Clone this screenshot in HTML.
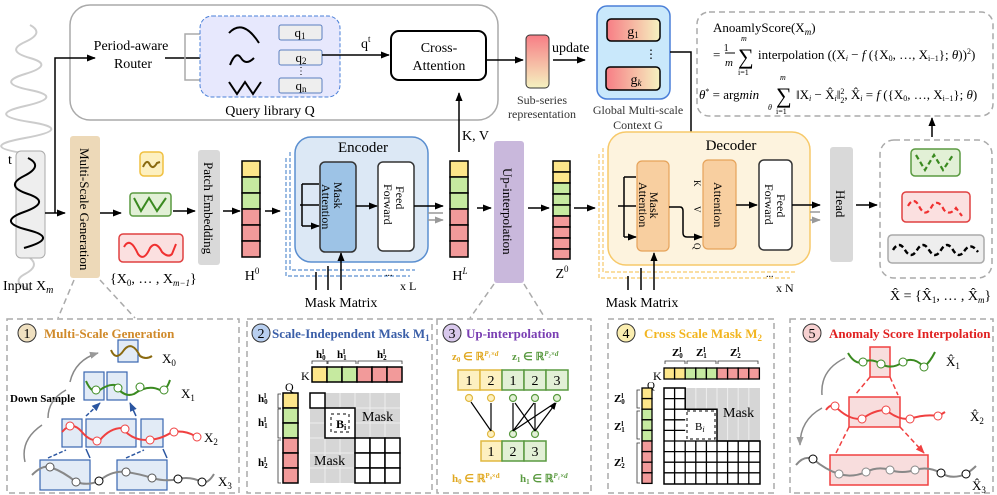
<!DOCTYPE html>
<html><head><meta charset="utf-8"><style>
html,body{margin:0;padding:0;background:#fff}
svg{display:block;font-family:"Liberation Serif",serif}
</style></head><body>
<svg width="997" height="495" viewBox="0 0 997 495" xmlns="http://www.w3.org/2000/svg">
<defs>
<marker id="a" viewBox="0 0 10 10" refX="9" refY="5" markerWidth="6" markerHeight="6" orient="auto"><path d="M0,1 L10,5 L0,9 z" fill="#000"/></marker>
<marker id="ag" viewBox="0 0 10 10" refX="9" refY="5" markerWidth="6" markerHeight="6" orient="auto"><path d="M0,1 L10,5 L0,9 z" fill="#999"/></marker>
<marker id="ab" viewBox="0 0 10 10" refX="9" refY="5" markerWidth="6" markerHeight="6" orient="auto"><path d="M0,1 L10,5 L0,9 z" fill="#2a55a0"/></marker>
<marker id="ar" viewBox="0 0 10 10" refX="9" refY="5" markerWidth="6" markerHeight="6" orient="auto"><path d="M0,1 L10,5 L0,9 z" fill="#f04040"/></marker>
<linearGradient id="gr" x1="0" y1="0" x2="1" y2="0"><stop offset="0" stop-color="#f77d85"/><stop offset="1" stop-color="#f5f2c0"/></linearGradient>
<linearGradient id="gv" x1="0" y1="0" x2="0" y2="1"><stop offset="0" stop-color="#f77d85"/><stop offset="1" stop-color="#f5f2c0"/></linearGradient>
</defs>

<!-- Input waveform -->
<path d="M30,25 Q45,33 25,42 T30,58 T25,74 T30,90 T25,106 T30,122 T25,138 T30,154" fill="none" stroke="#ccc" stroke-width="2"/>
<path d="M30,258 Q40,266 25,274 T30,290" fill="none" stroke="#ccc" stroke-width="2"/>
<rect x="16" y="151" width="29" height="107" rx="5" fill="#eee" stroke="#aaa"/>
<path d="M28,158 Q44,166 24,176 T28,194 T24,212 T28,230 T24,248" fill="none" stroke="#000" stroke-width="2"/>
<text x="8" y="164" font-size="14">t</text>
<text x="3" y="290" font-size="14">Input X<tspan font-style="italic" font-size="10" dy="3">m</tspan></text>

<!-- top box -->
<rect x="70" y="5" width="428" height="115" rx="20" fill="#fff" stroke="#aaa" stroke-width="1.5"/>
<text x="131" y="50" font-size="14" text-anchor="middle">Period-aware</text>
<text x="133" y="68" font-size="14" text-anchor="middle">Router</text>
<path d="M45,213 H65" stroke="#000" stroke-width="1.5" marker-end="url(#a)"/>
<path d="M55,213 V58 H95" fill="none" stroke="#000" stroke-width="1.5" marker-end="url(#a)"/>
<path d="M165,58 H212" stroke="#000" stroke-width="1.5" marker-end="url(#a)"/>
<path d="M210,34 H185 V80 H210" fill="none" stroke="#aaa" stroke-width="1.5"/>
<path d="M205,34 H211 M205,80 H211" stroke="#aaa" marker-end="url(#ag)"/>
<rect x="200" y="16" width="140" height="81" rx="12" fill="#e7e8fd" stroke="#4a7fd8" stroke-dasharray="4,2"/>
<path d="M229,33 Q243,18 259,43" fill="none" stroke="#000" stroke-width="2"/>
<path d="M230,65 Q236,50 241,58 T254,58" fill="none" stroke="#000" stroke-width="2"/>
<path d="M229,82 L237,94 L245,82 L253,94 L261,82" fill="none" stroke="#000" stroke-width="2"/>
<rect x="279" y="25" width="43" height="15" rx="2" fill="#eee" stroke="#5b7fc0"/>
<rect x="279" y="50" width="43" height="15" rx="2" fill="#eee" stroke="#5b7fc0"/>
<rect x="279" y="78" width="43" height="15" rx="2" fill="#eee" stroke="#5b7fc0"/>
<text x="300" y="37" font-size="13" text-anchor="middle">q<tspan font-size="9" dy="2">1</tspan></text>
<text x="301" y="62" font-size="13" text-anchor="middle">q<tspan font-size="9" dy="2">2</tspan></text>
<text x="296" y="74" font-size="10">⋮</text>
<text x="301" y="90" font-size="13" text-anchor="middle">q<tspan font-size="9" dy="2">n</tspan></text>
<text x="270" y="115" font-size="14" text-anchor="middle">Query library Q</text>
<path d="M322,55 H389" stroke="#000" stroke-width="1.5" marker-end="url(#a)"/>
<text x="361" y="48" font-size="14">q<tspan font-size="9" dy="-6">t</tspan></text>
<rect x="391" y="31" width="95" height="49" rx="8" fill="#fff" stroke="#000" stroke-width="2"/>
<text x="439" y="52" font-size="14" text-anchor="middle">Cross-</text>
<text x="439" y="70" font-size="14" text-anchor="middle">Attention</text>
<path d="M486,60 H523" stroke="#000" stroke-width="1.5" marker-end="url(#a)"/>
<path d="M459,152 V93" stroke="#000" stroke-width="1.5" marker-end="url(#a)"/>
<text x="462" y="140" font-size="14">K, V</text>

<!-- sub-series & global -->
<rect x="526" y="35" width="23" height="53" rx="4" fill="url(#gv)" stroke="#333"/>
<text x="542" y="104" font-size="12" text-anchor="middle" fill="#333">Sub-series</text>
<text x="542" y="118" font-size="12" text-anchor="middle" fill="#333">representation</text>
<text x="552" y="52" font-size="14">update</text>
<path d="M553,60 H585" stroke="#000" stroke-width="1.5" marker-end="url(#a)"/>
<rect x="597" y="6" width="73" height="93" rx="10" fill="#c9e8fb" stroke="#4a7fd8" stroke-width="1.5"/>
<rect x="607" y="19" width="53" height="22" rx="4" fill="url(#gr)" stroke="#000" stroke-width="1.5"/>
<rect x="606" y="67" width="54" height="23" rx="4" fill="url(#gr)" stroke="#000" stroke-width="1.5"/>
<text x="633" y="36" font-size="14" text-anchor="middle">g<tspan font-size="9" dy="2">1</tspan></text>
<text x="636" y="84" font-size="14" text-anchor="middle">g<tspan font-size="9" dy="2" font-style="italic">k</tspan></text>
<text x="645" y="58" font-size="12">⋮</text>
<text x="638" y="114" font-size="12" text-anchor="middle" fill="#333">Global Multi-scale</text>
<text x="638" y="129" font-size="12" text-anchor="middle" fill="#333">Context G</text>
<path d="M670,52 H691 V202" fill="none" stroke="#000" stroke-width="1.5"/>
<path d="M691,174 H702 M691,201 H702" stroke="#000" stroke-width="1.5" marker-end="url(#a)"/>

<!-- formula -->
<rect x="697" y="12" width="296" height="104" rx="12" fill="#fff" stroke="#aaa" stroke-dasharray="6,4" stroke-width="1.5"/>
<text x="713" y="32" font-size="13">AnoamlyScore(X<tspan font-style="italic" font-size="9" dy="3">m</tspan><tspan dy="-3">)</tspan></text>
<text x="713" y="59" font-size="13">= <tspan font-size="10" dy="-8">1</tspan></text>
<line x1="725" y1="53" x2="735" y2="53" stroke="#000"/>
<text x="725" y="66" font-size="11" font-style="italic">m</text>
<text x="738" y="64" font-size="22">∑</text>
<text x="741" y="41" font-size="8" font-style="italic">m</text>
<text x="738" y="75" font-size="8">i=1</text>
<text x="758" y="59" font-size="13">interpolation ((X<tspan font-size="8" dy="2" font-style="italic">i</tspan><tspan dy="-2"> − </tspan><tspan font-style="italic">f</tspan> ({X<tspan font-size="8" dy="2">0</tspan><tspan dy="-2">, …, X</tspan><tspan font-size="8" dy="2">i−1</tspan><tspan dy="-2">}; </tspan><tspan font-style="italic">θ</tspan>))<tspan font-size="8" dy="-5">2</tspan><tspan dy="5">)</tspan></text>
<text x="699" y="99" font-size="13"><tspan font-style="italic">θ</tspan><tspan font-size="8" dy="-5">*</tspan><tspan dy="5"> = arg</tspan><tspan font-style="italic">min</tspan></text>
<text x="768" y="110" font-size="8" font-style="italic">θ</text>
<text x="776" y="103" font-size="22">∑</text>
<text x="780" y="80" font-size="8" font-style="italic">m</text>
<text x="776" y="114" font-size="8">i=1</text>
<text x="796" y="99" font-size="13">‖X<tspan font-size="8" dy="2" font-style="italic">i</tspan><tspan dy="-2"> − X̂</tspan><tspan font-size="8" dy="2" font-style="italic">i</tspan><tspan dy="-2">‖</tspan><tspan font-size="8" dy="-5">2</tspan><tspan font-size="8" dx="-4" dy="9">2</tspan><tspan dy="-4">, X̂</tspan><tspan font-size="8" dy="2" font-style="italic">i</tspan><tspan dy="-2"> = </tspan><tspan font-style="italic">f</tspan> ({X<tspan font-size="8" dy="2">0</tspan><tspan dy="-2">, …, X</tspan><tspan font-size="8" dy="2">i−1</tspan><tspan dy="-2">}; </tspan><tspan font-style="italic">θ</tspan>)</text>

<!-- multi-scale gen -->
<rect x="70" y="136" width="30" height="142" rx="3" fill="#edd9b8"/>
<text transform="translate(80,148) rotate(90)" font-size="13">Multi-Scale Generation</text>
<path d="M100,213 H121" stroke="#000" stroke-width="1.5" marker-end="url(#a)"/>
<rect x="140" y="152" width="23" height="24" rx="4" fill="#fdf0c0" stroke="#f0c040" stroke-width="1.5"/>
<path d="M143,167 Q147,158 150,165 Q153,170 157,163 L160,162" fill="none" stroke="#8a6a10" stroke-width="2"/>
<rect x="130" y="193" width="41" height="23" rx="3" fill="#e2f0d6" stroke="#5a9a40" stroke-width="1.5"/>
<path d="M134,198 L141,211 L149,198 L157,211 L166,198" fill="none" stroke="#3a8a20" stroke-width="2"/>
<rect x="119" y="234" width="64" height="28" rx="4" fill="#fbe0e0" stroke="#e04040" stroke-width="1.5"/>
<path d="M124,247 Q130,236 138,254 Q144,262 150,248 Q156,240 162,252 Q168,258 172,254 L176,244" fill="none" stroke="#f03030" stroke-width="2"/>
<text x="110" y="283" font-size="14">{X<tspan font-size="9" dy="3">0</tspan><tspan dy="-3">, … , X</tspan><tspan font-size="9" dy="3" font-style="italic">m−1</tspan><tspan dy="-3">}</tspan></text>
<path d="M173,211 H195" stroke="#000" stroke-width="1.5" marker-end="url(#a)"/>
<rect x="198" y="150" width="22" height="115" rx="3" fill="#d9d9d9"/>
<text transform="translate(204,162) rotate(90)" font-size="13">Patch Embedding</text>
<path d="M223,211 H240" stroke="#000" stroke-width="1.5" marker-end="url(#a)"/>
<g stroke="#000" stroke-width="1.5">
<rect x="242" y="161" width="18" height="16" fill="#fde68a"/>
<rect x="242" y="177" width="18" height="16" fill="#c6eaa0"/>
<rect x="242" y="193" width="18" height="16" fill="#c6eaa0"/>
<rect x="242" y="209" width="18" height="16" fill="#f29a9a"/>
<rect x="242" y="225" width="18" height="16" fill="#f29a9a"/>
<rect x="242" y="241" width="18" height="16" fill="#f29a9a"/>
</g>
<text x="252" y="280" font-size="14" text-anchor="middle">H<tspan font-size="9" dy="-6">0</tspan></text>
<path d="M265,211 H280" stroke="#000" stroke-width="1.5" marker-end="url(#a)"/>

<!-- encoder -->
<path d="M290,152 V270 H415" fill="none" stroke="#5b8fd0" stroke-dasharray="4,2" stroke-width="1.2"/>
<path d="M286,158 V276 H410" fill="none" stroke="#5b8fd0" stroke-dasharray="4,2" stroke-width="1.2"/>
<rect x="295" y="137" width="133" height="125" rx="16" fill="#dce8f5" stroke="#5b8fd0" stroke-width="1.5"/>
<text x="363" y="152" font-size="15" text-anchor="middle">Encoder</text>
<rect x="320" y="162" width="36" height="90" rx="5" fill="#9dc3e6" stroke="#333" stroke-width="1.5"/>
<text transform="translate(334,182) rotate(90)" font-size="12">Mask</text>
<text transform="translate(322,184) rotate(90)" font-size="12">Attention</text>
<rect x="378" y="162" width="36" height="89" rx="5" fill="#fff" stroke="#333" stroke-width="1.5"/>
<text transform="translate(396,186) rotate(90)" font-size="12">Feed</text>
<text transform="translate(384,184) rotate(90)" font-size="12">Forward</text>
<path d="M302,205 V184 M302,205 V226" fill="none" stroke="#000" stroke-width="1.5"/>
<path d="M300,205 H319 M302,184 H319 M302,226 H319" stroke="#000" stroke-width="1.5" marker-end="url(#a)"/>
<path d="M356,206 H377" stroke="#000" stroke-width="1.5" marker-end="url(#a)"/>
<path d="M414,206 H443" stroke="#000" stroke-width="1.5" marker-end="url(#a)"/>
<path d="M428,213 H443 M428,220 H443" stroke="#999" stroke-width="1.5" marker-end="url(#ag)"/>
<path d="M316,290 V272 M328,290 V266 M341,290 V253" stroke="#000" stroke-width="1.5" marker-end="url(#a)"/>
<text x="385" y="276" font-size="10">...</text>
<text x="400" y="290" font-size="12">x L</text>
<text x="341" y="307" font-size="14" text-anchor="middle">Mask Matrix</text>

<g stroke="#000" stroke-width="1.5">
<rect x="450" y="161" width="18" height="16" fill="#fde68a"/>
<rect x="450" y="177" width="18" height="16" fill="#c6eaa0"/>
<rect x="450" y="193" width="18" height="16" fill="#c6eaa0"/>
<rect x="450" y="209" width="18" height="16" fill="#f29a9a"/>
<rect x="450" y="225" width="18" height="16" fill="#f29a9a"/>
<rect x="450" y="241" width="18" height="16" fill="#f29a9a"/>
</g>
<text x="460" y="280" font-size="14" text-anchor="middle">H<tspan font-size="9" dy="-6" font-style="italic">L</tspan></text>
<path d="M477,208 H491" stroke="#000" stroke-width="1.5" marker-end="url(#a)"/>
<rect x="494" y="141" width="30" height="142" rx="3" fill="#c9b8dc"/>
<text transform="translate(503,168) rotate(90)" font-size="13">Up-interpolation</text>
<path d="M528,208 H549" stroke="#000" stroke-width="1.5" marker-end="url(#a)"/>
<g stroke="#000" stroke-width="1.5">
<rect x="553" y="161" width="17" height="11" fill="#fde68a"/>
<rect x="553" y="172" width="17" height="11" fill="#fde68a"/>
<rect x="553" y="183" width="17" height="11" fill="#c6eaa0"/>
<rect x="553" y="194" width="17" height="11" fill="#c6eaa0"/>
<rect x="553" y="205" width="17" height="11" fill="#c6eaa0"/>
<rect x="553" y="216" width="17" height="11" fill="#f29a9a"/>
<rect x="553" y="227" width="17" height="11" fill="#f29a9a"/>
<rect x="553" y="238" width="17" height="11" fill="#f29a9a"/>
<rect x="553" y="249" width="17" height="10" fill="#f29a9a"/>
</g>
<text x="562" y="278" font-size="14" text-anchor="middle">Z<tspan font-size="9" dy="-6">0</tspan></text>
<path d="M574,208 H595" stroke="#000" stroke-width="1.5" marker-end="url(#a)"/>

<!-- decoder -->
<path d="M603,148 V272 H795" fill="none" stroke="#f7c96a" stroke-dasharray="4,2" stroke-width="1.2"/>
<path d="M599,154 V278 H790" fill="none" stroke="#f7c96a" stroke-dasharray="4,2" stroke-width="1.2"/>
<rect x="608" y="132" width="202" height="133" rx="18" fill="#fdf3de" stroke="#f7c96a" stroke-width="1.5"/>
<text x="731" y="150" font-size="15" text-anchor="middle">Decoder</text>
<rect x="637" y="161" width="32" height="90" rx="5" fill="#f8cfa0" stroke="#e6a35a" stroke-width="1.2"/>
<text transform="translate(650,192) rotate(90)" font-size="12">Mask</text>
<text transform="translate(639,182) rotate(90)" font-size="12">Attention</text>
<rect x="703" y="160" width="33" height="89" rx="5" fill="#f8cfa0" stroke="#e6a35a" stroke-width="1.2"/>
<text transform="translate(714,182) rotate(90)" font-size="12">Attention</text>
<rect x="759" y="160" width="33" height="90" rx="5" fill="#fff" stroke="#333" stroke-width="1.5"/>
<text transform="translate(777,194) rotate(90)" font-size="12">Feed</text>
<text transform="translate(765,184) rotate(90)" font-size="12">Forward</text>
<path d="M624,206 V177 M624,206 V237" fill="none" stroke="#000" stroke-width="1.5"/>
<path d="M618,206 H636 M624,177 H636 M624,237 H636" stroke="#000" stroke-width="1.5" marker-end="url(#a)"/>
<path d="M669,207 H680 Q683,207 683,211 V233 Q683,237 687,237 H702" fill="none" stroke="#000" stroke-width="1.5" marker-end="url(#a)"/>
<text transform="translate(694,180) rotate(90)" font-size="9">K</text>
<text transform="translate(694,206) rotate(90)" font-size="9">V</text>
<text transform="translate(694,243) rotate(90)" font-size="9">Q</text>
<path d="M736,205 H757" stroke="#000" stroke-width="1.5" marker-end="url(#a)"/>
<path d="M792,205 H820" stroke="#000" stroke-width="1.5" marker-end="url(#a)"/>
<path d="M810,212 H820 M810,220 H820" stroke="#999" stroke-width="1.5" marker-end="url(#ag)"/>
<path d="M628,290 V276 M641,290 V268 M654,290 V253" stroke="#000" stroke-width="1.5" marker-end="url(#a)"/>
<text x="766" y="277" font-size="10">...</text>
<text x="776" y="292" font-size="12">x N</text>
<text x="642" y="307" font-size="14" text-anchor="middle">Mask Matrix</text>
<rect x="830" y="147" width="23" height="115" rx="3" fill="#d9d9d9"/>
<text transform="translate(836,190) rotate(90)" font-size="13">Head</text>
<path d="M856,205 H877" stroke="#000" stroke-width="1.5" marker-end="url(#a)"/>
<rect x="880" y="140" width="112" height="138" rx="14" fill="#fff" stroke="#aaa" stroke-dasharray="6,4" stroke-width="1.5"/>
<rect x="911" y="149" width="49" height="27" rx="4" fill="#e2f0d6" stroke="#5a9a40" stroke-width="1.5"/>
<path d="M916,155 L925,170 L934,155 L943,170 L953,155" fill="none" stroke="#3a8a20" stroke-width="2.2" stroke-dasharray="5,3"/>
<rect x="902" y="192" width="68" height="30" rx="4" fill="#fbe0e0" stroke="#e04040" stroke-width="1.5"/>
<path d="M908,206 Q914,195 920,208 Q926,218 932,206 Q938,198 944,210 Q950,216 956,208 L962,216" fill="none" stroke="#f03030" stroke-width="2.2" stroke-dasharray="5,3"/>
<rect x="888" y="235" width="96" height="28" rx="4" fill="#eee" stroke="#aaa" stroke-width="1.5"/>
<path d="M893,250 Q899,240 905,250 Q911,260 917,250 Q923,240 929,250 Q935,260 941,250 Q947,240 953,250 Q959,260 965,250 Q971,242 978,252" fill="none" stroke="#000" stroke-width="2.4" stroke-dasharray="5,3"/>
<path d="M932,137 V118" stroke="#000" stroke-width="1.5" marker-end="url(#a)"/>
<text x="890" y="300" font-size="14">X̂ = {X̂<tspan font-size="9" dy="3">1</tspan><tspan dy="-3">, … , X̂</tspan><tspan font-size="9" dy="3" font-style="italic">m</tspan><tspan dy="-3">}</tspan></text>

<!-- zoom lines -->
<g stroke="#aaa" stroke-dasharray="6,4" stroke-width="1.5" fill="none">
<path d="M74,280 L58,318 M100,280 L135,318"/>
<path d="M494,284 L470,318 M524,284 L545,318"/>
</g>

<!-- bottom panels -->
<g fill="none" stroke="#aaa" stroke-dasharray="6,4" stroke-width="1.5">
<rect x="7" y="319" width="232" height="174"/>
<rect x="247" y="319" width="185" height="174"/>
<rect x="437" y="319" width="154" height="174"/>
<rect x="608" y="319" width="166" height="174"/>
<rect x="790" y="319" width="203" height="174"/>
</g>
<g font-size="13" font-weight="bold">
<circle cx="27" cy="333" r="9" fill="#efe0c0" stroke="#333"/><text x="27" y="338" text-anchor="middle" font-weight="normal" font-size="14">1</text>
<text x="44" y="338" fill="#d08a2a">Multi-Scale Generation</text>
<circle cx="261" cy="333" r="9" fill="#b8cff0" stroke="#333"/><text x="261" y="338" text-anchor="middle" font-weight="normal" font-size="14">2</text>
<text x="272" y="338" fill="#3b5fa8">Scale-Independent Mask M<tspan font-size="9" dy="3">1</tspan></text>
<circle cx="452" cy="333" r="9" fill="#d8c8ec" stroke="#333"/><text x="452" y="338" text-anchor="middle" font-weight="normal" font-size="14">3</text>
<text x="466" y="338" fill="#7a3fb3">Up-interpolation</text>
<circle cx="626" cy="333" r="9" fill="#fbeeb0" stroke="#333"/><text x="626" y="338" text-anchor="middle" font-weight="normal" font-size="14">4</text>
<text x="644" y="338" fill="#f2b520">Cross Scale Mask M<tspan font-size="9" dy="3">2</tspan></text>
<circle cx="812" cy="333" r="9" fill="#f6d0d0" stroke="#333"/><text x="812" y="338" text-anchor="middle" font-weight="normal" font-size="14">5</text>
<text x="829" y="338" fill="#e02020">Anomaly Score Interpolation</text>
</g>

<!-- panel 1 -->
<g fill="#dbe6f4" fill-opacity="0.8" stroke="#3a66b0" stroke-width="1.2">
<rect x="118" y="340" width="20" height="22"/>
<rect x="84" y="372" width="20" height="28"/><rect x="107" y="372" width="20" height="28"/>
<rect x="62" y="419" width="20" height="28"/><rect x="86" y="419" width="50" height="28"/><rect x="141" y="419" width="22" height="28"/>
<rect x="40" y="460" width="50" height="30"/><rect x="117" y="460" width="50" height="30"/>
</g>
<path d="M111,350 Q116,362 124,350 Q132,340 140,356 Q146,360 152,356" fill="none" stroke="#8a6a10" stroke-width="2"/>
<text x="162" y="363" font-size="13">X<tspan font-size="9" dy="3">0</tspan></text>
<path d="M86,381 Q92,395 100,390 Q108,384 115,385 Q124,398 134,394 Q148,384 160,390 Q166,392 170,380" fill="none" stroke="#3a8a20" stroke-width="2"/>
<circle cx="96" cy="390" r="4" fill="#fff" stroke="#3a8a20"/><circle cx="118" cy="388" r="4" fill="#fff" stroke="#3a8a20"/><circle cx="140" cy="387" r="4" fill="#fff" stroke="#3a8a20"/><circle cx="164" cy="390" r="4" fill="#fff" stroke="#3a8a20"/>
<text x="181" y="398" font-size="13">X<tspan font-size="9" dy="3">1</tspan></text>
<path d="M62,432 Q72,420 82,432 Q90,442 100,440 Q110,428 122,428 Q132,440 146,440 Q160,440 172,432 Q185,430 195,436" fill="none" stroke="#f04040" stroke-width="2"/>
<circle cx="70" cy="426" r="4" fill="#fff" stroke="#f04040"/><circle cx="97" cy="441" r="4" fill="#fff" stroke="#f04040"/><circle cx="125" cy="429" r="4" fill="#fff" stroke="#f04040"/><circle cx="150" cy="440" r="4" fill="#fff" stroke="#f04040"/><circle cx="174" cy="432" r="4" fill="#fff" stroke="#f04040"/><circle cx="197" cy="437" r="4" fill="#fff" stroke="#f04040"/>
<text x="204" y="442" font-size="13">X<tspan font-size="9" dy="3">2</tspan></text>
<path d="M32,475 Q42,465 50,467 Q64,472 76,482 Q88,486 99,481 Q112,470 126,472 Q140,474 152,478 Q166,482 178,479 Q190,476 202,482 Q208,484 214,474" fill="none" stroke="#888" stroke-width="2"/>
<circle cx="50" cy="467" r="4" fill="#fff" stroke="#555"/><circle cx="76" cy="482" r="4" fill="#fff" stroke="#555"/><circle cx="99" cy="481" r="4" fill="#fff" stroke="#000"/><circle cx="126" cy="472" r="4" fill="#fff" stroke="#555"/><circle cx="152" cy="478" r="4" fill="#fff" stroke="#555"/><circle cx="178" cy="479" r="4" fill="#fff" stroke="#000"/><circle cx="202" cy="482" r="4" fill="#fff" stroke="#000"/>
<text x="218" y="486" font-size="13">X<tspan font-size="9" dy="3">3</tspan></text>
<text x="10" y="402" font-size="11" font-weight="bold">Down Sample</text>
<path d="M25,462 Q20,440 42,425 M48,418 Q48,400 66,390 M70,382 Q75,360 98,353" fill="none" stroke="#888" stroke-width="1.5" marker-end="url(#ag)"/>
<g stroke="#2a55a0" stroke-width="1.5" stroke-dasharray="4,2"><path d="M48,458 L66,450 M126,458 L144,450 M86,416 L100,403" marker-end="url(#ab)"/></g>
<g stroke="#2a55a0" stroke-width="1.5"><path d="M90,458 L86,449 M167,458 L163,449 M136,416 L130,403" marker-end="url(#ab)"/></g>

<!-- panel 2 -->
<g font-size="11" font-weight="bold" font-family="Liberation Serif">
<text x="316" y="358">h<tspan font-size="7" dy="-4">l</tspan><tspan font-size="7" dx="-2" dy="6">0</tspan></text>
<text x="337" y="358">h<tspan font-size="7" dy="-4">l</tspan><tspan font-size="7" dx="-2" dy="6">1</tspan></text>
<text x="377" y="358">h<tspan font-size="7" dy="-4">l</tspan><tspan font-size="7" dx="-2" dy="6">2</tspan></text>
<text x="258" y="402">h<tspan font-size="7" dy="-4">l</tspan><tspan font-size="7" dx="-2" dy="6">0</tspan></text>
<text x="258" y="426">h<tspan font-size="7" dy="-4">l</tspan><tspan font-size="7" dx="-2" dy="6">1</tspan></text>
<text x="258" y="466">h<tspan font-size="7" dy="-4">l</tspan><tspan font-size="7" dx="-2" dy="6">2</tspan></text>
</g>
<path d="M312,364 V361 H327 V364 M328,364 V361 H356 V364 M358,364 V361 H402 V364" fill="none" stroke="#333" stroke-width="0.8"/>
<path d="M281,394 H278 V408 H281 M281,409 H278 V438 H281 M281,440 H278 V483 H281" fill="none" stroke="#333" stroke-width="0.8"/>
<text x="301" y="380" font-size="12">K</text>
<text x="285" y="391" font-size="12">Q</text>
<g stroke="#000" stroke-width="1.5">
<rect x="312" y="367" width="15" height="15" fill="#fde68a"/><rect x="327" y="367" width="15" height="15" fill="#c6eaa0"/><rect x="342" y="367" width="15" height="15" fill="#c6eaa0"/><rect x="357" y="367" width="15" height="15" fill="#f29a9a"/><rect x="372" y="367" width="15" height="15" fill="#f29a9a"/><rect x="387" y="367" width="15" height="15" fill="#f29a9a"/>
<rect x="283" y="393" width="15" height="15" fill="#fde68a"/><rect x="283" y="408" width="15" height="15" fill="#c6eaa0"/><rect x="283" y="423" width="15" height="15" fill="#c6eaa0"/><rect x="283" y="438" width="15" height="15" fill="#f29a9a"/><rect x="283" y="453" width="15" height="15" fill="#f29a9a"/><rect x="283" y="468" width="15" height="15" fill="#f29a9a"/>
</g>
<rect x="310" y="393" width="90" height="90" fill="#d6d6d6"/>
<g stroke="#eee" stroke-width="1"><path d="M325,393V483M340,393V483M355,393V483M370,393V483M385,393V483M310,408H400M310,423H400M310,438H400M310,453H400M310,468H400"/></g>
<rect x="310" y="393" width="15" height="15" fill="#fff" stroke="#000" stroke-width="1.5"/>
<rect x="325" y="408" width="30" height="30" fill="#fff" stroke="#000" stroke-width="1.5"/>
<rect x="331" y="414" width="18" height="18" fill="none" stroke="#000" stroke-dasharray="3,3"/>
<text x="336" y="428" font-size="12" font-weight="bold">B<tspan font-size="8" dy="2">i</tspan></text>
<g fill="#fff" stroke="#000" stroke-width="1.5"><rect x="355" y="438" width="15" height="15"/><rect x="370" y="438" width="15" height="15"/><rect x="385" y="438" width="15" height="15"/><rect x="355" y="453" width="15" height="15"/><rect x="370" y="453" width="15" height="15"/><rect x="385" y="453" width="15" height="15"/><rect x="355" y="468" width="15" height="15"/><rect x="370" y="468" width="15" height="15"/><rect x="385" y="468" width="15" height="15"/></g>
<text x="362" y="421" font-size="14">Mask</text>
<text x="314" y="465" font-size="14">Mask</text>

<!-- panel 3 -->
<text x="452" y="360" font-size="11" font-weight="bold" fill="#e0a820">z<tspan font-size="7" dy="2">0</tspan><tspan dy="-2"> ∈ ℝ</tspan><tspan font-size="7" dy="-4" font-style="italic">P₁×d</tspan></text>
<text x="512" y="360" font-size="11" font-weight="bold" fill="#5a9a40">z<tspan font-size="7" dy="2">1</tspan><tspan dy="-2"> ∈ ℝ</tspan><tspan font-size="7" dy="-4" font-style="italic">P₂×d</tspan></text>
<g stroke-width="1.5" font-size="14">
<rect x="458" y="370" width="22" height="20" fill="#fdf0c0" stroke="#e0b840"/><rect x="480" y="370" width="22" height="20" fill="#fdf0c0" stroke="#e0b840"/>
<rect x="502" y="370" width="22" height="20" fill="#e2f0d6" stroke="#5a9a40"/><rect x="524" y="370" width="22" height="20" fill="#e2f0d6" stroke="#5a9a40"/><rect x="546" y="370" width="22" height="20" fill="#e2f0d6" stroke="#5a9a40"/>
<rect x="481" y="441" width="21" height="20" fill="#fdf0c0" stroke="#e0b840"/><rect x="502" y="441" width="22" height="20" fill="#e2f0d6" stroke="#5a9a40"/><rect x="524" y="441" width="22" height="20" fill="#e2f0d6" stroke="#5a9a40"/>
</g>
<g font-size="14" text-anchor="middle"><text x="469" y="385">1</text><text x="491" y="385">2</text><text x="513" y="385">1</text><text x="535" y="385">2</text><text x="557" y="385">3</text><text x="491" y="456">1</text><text x="513" y="456">2</text><text x="535" y="456">3</text></g>
<g stroke-width="1.2" fill="#fdf0c0" stroke="#e0b840"><circle cx="469" cy="398" r="3.5"/><circle cx="491" cy="398" r="3.5"/><circle cx="491" cy="434" r="3.5"/></g>
<g stroke-width="1.2" fill="#e2f0d6" stroke="#5a9a40"><circle cx="513" cy="398" r="3.5"/><circle cx="535" cy="398" r="3.5"/><circle cx="557" cy="398" r="3.5"/><circle cx="513" cy="434" r="3.5"/><circle cx="535" cy="434" r="3.5"/></g>
<g stroke="#000" stroke-width="1.2"><path d="M491,431 L471,402 M491,431 L491,403 M513,431 L513,403 M513,431 L534,403 M513,431 L555,403 M535,431 L515,403 M535,431 L535,403 M535,431 L556,403" marker-end="url(#a)"/></g>
<text x="452" y="482" font-size="11" font-weight="bold" fill="#e0a820">h<tspan font-size="7" dy="2">0</tspan><tspan dy="-2"> ∈ ℝ</tspan><tspan font-size="7" dy="-4">P₀×d</tspan></text>
<text x="520" y="482" font-size="11" font-weight="bold" fill="#5a9a40">h<tspan font-size="7" dy="2">1</tspan><tspan dy="-2"> ∈ ℝ</tspan><tspan font-size="7" dy="-4" font-style="italic">P₁×d</tspan></text>

<!-- panel 4 -->
<g font-size="11" font-weight="bold">
<text x="672" y="356">Z<tspan font-size="7" dy="-4">l</tspan><tspan font-size="7" dx="-2" dy="6">0</tspan></text>
<text x="696" y="356">Z<tspan font-size="7" dy="-4">l</tspan><tspan font-size="7" dx="-2" dy="6">1</tspan></text>
<text x="730" y="356">Z<tspan font-size="7" dy="-4">l</tspan><tspan font-size="7" dx="-2" dy="6">2</tspan></text>
<text x="614" y="402">Z<tspan font-size="7" dy="-4">l</tspan><tspan font-size="7" dx="-2" dy="6">0</tspan></text>
<text x="614" y="430">Z<tspan font-size="7" dy="-4">l</tspan><tspan font-size="7" dx="-2" dy="6">1</tspan></text>
<text x="614" y="466">Z<tspan font-size="7" dy="-4">l</tspan><tspan font-size="7" dx="-2" dy="6">2</tspan></text>
</g>
<path d="M665,364 V361 H685 V364 M687,364 V361 H716 V364 M718,364 V361 H758 V364" fill="none" stroke="#333" stroke-width="0.8"/>
<path d="M640,390 H637 V408 H640 M640,411 H637 V439 H640 M640,443 H637 V483 H640" fill="none" stroke="#333" stroke-width="0.8"/>
<text x="653" y="380" font-size="12">K</text>
<text x="647" y="389" font-size="11">Q</text>
<g stroke="#000" stroke-width="1.3">
<rect x="664" y="368" width="10.6" height="11" fill="#fde68a"/><rect x="674.6" y="368" width="10.6" height="11" fill="#fde68a"/><rect x="685.2" y="368" width="10.6" height="11" fill="#c6eaa0"/><rect x="695.8" y="368" width="10.6" height="11" fill="#c6eaa0"/><rect x="706.4" y="368" width="10.6" height="11" fill="#c6eaa0"/><rect x="717" y="368" width="10.6" height="11" fill="#f29a9a"/><rect x="727.6" y="368" width="10.6" height="11" fill="#f29a9a"/><rect x="738.2" y="368" width="10.6" height="11" fill="#f29a9a"/><rect x="748.8" y="368" width="10.6" height="11" fill="#f29a9a"/>
<rect x="642" y="388" width="10" height="10.6" fill="#fde68a"/><rect x="642" y="398.6" width="10" height="10.6" fill="#fde68a"/><rect x="642" y="409.2" width="10" height="10.6" fill="#c6eaa0"/><rect x="642" y="419.8" width="10" height="10.6" fill="#c6eaa0"/><rect x="642" y="430.4" width="10" height="10.6" fill="#c6eaa0"/><rect x="642" y="441" width="10" height="10.6" fill="#f29a9a"/><rect x="642" y="451.6" width="10" height="10.6" fill="#f29a9a"/><rect x="642" y="462.2" width="10" height="10.6" fill="#f29a9a"/><rect x="642" y="472.8" width="10" height="10.6" fill="#f29a9a"/>
</g>
<rect x="664" y="388" width="96" height="96" fill="#d6d6d6"/>
<g stroke="#eee"><path d="M674.6,388V484M685.2,388V484M695.8,388V484M706.4,388V484M717,388V484M727.6,388V484M738.2,388V484M748.8,388V484"/></g>
<path d="M664,388 H685.2 V409.2 H717 V441 H760 V484 H664 Z" fill="#fff" stroke="#000" stroke-width="1.5"/>
<g stroke="#000" stroke-width="1.3"><path d="M674.6,388V484M664,398.6H685.2M664,409.2H685.2M664,419.8H685.2M664,430.4H685.2M685.2,441V484M695.8,441V484M706.4,441V484M717,441V484M727.6,441V484M738.2,441V484M748.8,441V484M664,451.6H760M664,462.2H760M664,472.8H760M664,441H760"/></g>
<rect x="687" y="411" width="28" height="28" fill="#fff" stroke="#000" stroke-dasharray="3,3"/>
<text x="695" y="430" font-size="11">B<tspan font-size="8" dy="2" font-style="italic">i</tspan></text>
<text x="723" y="417" font-size="14">Mask</text>

<!-- panel 5 -->
<path d="M845,358 Q820,370 822,395 M822,408 Q800,420 800,445" fill="none" stroke="#888" stroke-width="1.5" marker-end="url(#ag)"/>
<rect x="870" y="347" width="20" height="30" fill="#f6d4d4" fill-opacity="0.8" stroke="#f04040" stroke-width="1.5"/>
<path d="M848,353 Q855,365 863,362 Q872,358 881,364 Q892,370 903,362 Q914,356 924,367 Q930,362 935,352" fill="none" stroke="#3a8a20" stroke-width="2"/>
<circle cx="863" cy="362" r="4" fill="#fff" stroke="#3a8a20"/><circle cx="881" cy="364" r="4" fill="#fff" stroke="#3a8a20"/><circle cx="903" cy="362" r="4" fill="#fff" stroke="#3a8a20"/><circle cx="924" cy="367" r="4" fill="#fff" stroke="#3a8a20"/>
<text x="946" y="366" font-size="13">X̂<tspan font-size="9" dy="3">1</tspan></text>
<rect x="849" y="397" width="51" height="30" fill="#f6d4d4" fill-opacity="0.8" stroke="#f04040" stroke-width="1.5"/>
<path d="M826,410 Q830,404 835,406 Q848,420 862,419 Q874,410 886,410 Q898,420 910,419 Q924,414 938,416 Q942,414 945,412" fill="none" stroke="#f04040" stroke-width="2"/>
<circle cx="835" cy="406" r="4" fill="#fff" stroke="#f04040"/><circle cx="862" cy="419" r="4" fill="#fff" stroke="#f04040"/><circle cx="886" cy="410" r="4" fill="#fff" stroke="#f04040"/><circle cx="910" cy="419" r="4" fill="#fff" stroke="#f04040"/><circle cx="938" cy="416" r="4" fill="#fff" stroke="#f04040"/>
<text x="970" y="421" font-size="13">X̂<tspan font-size="9" dy="3">2</tspan></text>
<rect x="830" y="455" width="98" height="30" fill="#f6d4d4" fill-opacity="0.8" stroke="#f04040" stroke-width="1.5"/>
<path d="M796,465 Q804,455 813,459 Q826,470 839,474 Q852,478 866,472 Q878,466 890,470 Q902,474 915,470 Q928,466 941,473 Q952,480 966,474 Q972,470 976,466" fill="none" stroke="#888" stroke-width="2"/>
<circle cx="813" cy="459" r="4" fill="#fff" stroke="#000"/><circle cx="839" cy="474" r="4" fill="#fff" stroke="#888"/><circle cx="866" cy="472" r="4" fill="#fff" stroke="#888"/><circle cx="890" cy="470" r="4" fill="#fff" stroke="#888"/><circle cx="915" cy="470" r="4" fill="#fff" stroke="#888"/><circle cx="941" cy="473" r="4" fill="#fff" stroke="#000"/><circle cx="966" cy="474" r="4" fill="#fff" stroke="#000"/>
<text x="972" y="490" font-size="13">X̂<tspan font-size="9" dy="3">3</tspan></text>
<g stroke="#f04040" stroke-width="1.5" stroke-dasharray="5,3"><path d="M870,377 L855,395 M890,377 L898,395 M849,427 L836,453 M900,427 L924,453" marker-end="url(#ar)"/></g>
</svg>
</body></html>
